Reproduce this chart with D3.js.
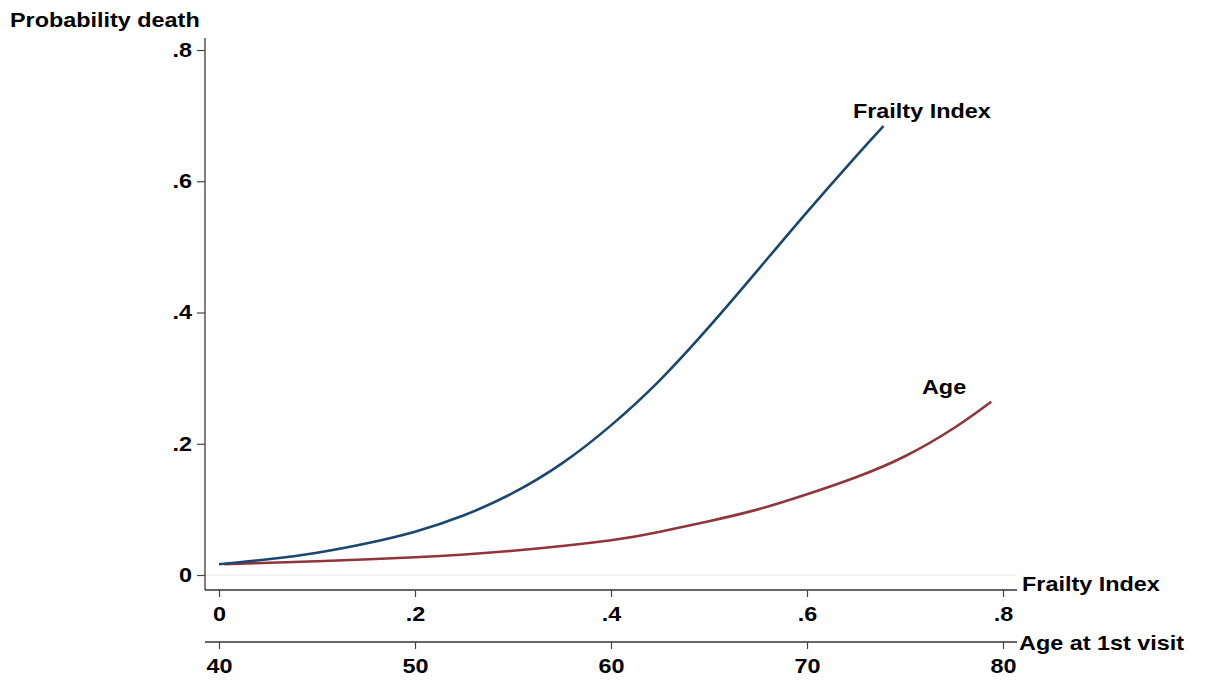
<!DOCTYPE html>
<html>
<head>
<meta charset="utf-8">
<script src="https://cdn.jsdelivr.net/npm/d3@7"></script>
<style>
  html, body { margin: 0; padding: 0; background: #fff; }
  svg { display: block; font-family: "Liberation Sans", Arial, Helvetica, sans-serif; font-weight: bold; }
</style>
</head>
<body>
<svg id="chart" width="1205" height="683"></svg>
<script>
// Predicted probability of death by frailty index
const frailtyX = [0, 0.05, 0.10, 0.15, 0.20, 0.25, 0.30, 0.35, 0.40, 0.45, 0.50, 0.55, 0.60, 0.65, 0.678];
const frailtyP = [0.0165, 0.024, 0.034, 0.048, 0.066, 0.091, 0.125, 0.170, 0.228, 0.297, 0.378, 0.465, 0.553, 0.638, 0.684];

// Predicted probability of death by age at first visit
const ageX = [40.25, 45, 50, 55, 60, 62.5, 65, 67.5, 70, 72.5, 75, 77.5, 79.4];
const ageP = [0.0165, 0.021, 0.027, 0.037, 0.053, 0.066, 0.082, 0.100, 0.123, 0.149, 0.181, 0.224, 0.264];

const yTicks = [0, 0.2, 0.4, 0.6, 0.8];
const yTickLabels = ["0", ".2", ".4", ".6", ".8"];
const fiTicks = [0, 0.2, 0.4, 0.6, 0.8];
const fiTickLabels = ["0", ".2", ".4", ".6", ".8"];
const ageTicks = [40, 50, 60, 70, 80];
const ageTickLabels = ["40", "50", "60", "70", "80"];

const svg = d3.select("#chart");
const STRETCH = 1.17;   // glyphs are drawn slightly wider than the base face
const FONT = "'Liberation Sans', Arial, sans-serif";

const xFI = d3.scaleLinear().domain([0, 0.8]).range([219, 1003]);
const xAge = d3.scaleLinear().domain([40, 80]).range([219, 1003]);
const y = d3.scaleLinear().domain([0, 0.8]).range([575, 50]);

const plotLeft = 205, plotRight = 1017, plotTop = 38, plotBottom = 590;

// widen a text element horizontally around its anchor x
function widen(sel, ax) {
  sel.attr("transform", `translate(${ax},0) scale(${STRETCH},1) translate(${-ax},0)`);
}

// Light grid line at zero
svg.append("line")
  .attr("x1", plotLeft).attr("x2", plotRight)
  .attr("y1", y(0)).attr("y2", y(0))
  .attr("stroke", "#eaf2f3").attr("stroke-width", 1.5);

// Y axis
const yAxis = d3.axisLeft(y).tickValues(yTicks)
  .tickFormat((d, i) => yTickLabels[i]).tickSize(8).tickPadding(5);
const gy = svg.append("g").attr("transform", `translate(${plotLeft},0)`).call(yAxis);
gy.select(".domain").attr("d", `M0,${plotTop}V${plotBottom}`).attr("stroke", "#555").attr("stroke-width", 1.5);
gy.selectAll(".tick line").attr("stroke", "#444").attr("stroke-width", 1.2);
gy.selectAll(".tick text").attr("fill", "#000")
  .style("font-size", "20px").style("font-weight", "bold").style("font-family", FONT)
  .each(function () { widen(d3.select(this), -13); });

// Frailty index axis
const fiAxis = d3.axisBottom(xFI).tickValues(fiTicks)
  .tickFormat((d, i) => fiTickLabels[i]).tickSize(7).tickPadding(10);
const gx1 = svg.append("g").attr("transform", `translate(0,${plotBottom})`).call(fiAxis);
gx1.select(".domain").attr("d", `M${plotLeft},0H${plotRight}`).attr("stroke", "#333").attr("stroke-width", 1.5);

// Age axis
const ageAxis = d3.axisBottom(xAge).tickValues(ageTicks)
  .tickFormat((d, i) => ageTickLabels[i]).tickSize(7).tickPadding(10);
const gx2 = svg.append("g").attr("transform", `translate(0,642)`).call(ageAxis);
gx2.select(".domain").attr("d", `M${plotLeft},0H${plotRight}`).attr("stroke", "#333").attr("stroke-width", 1.5);

[gx1, gx2].forEach(g => {
  g.selectAll(".tick line").attr("stroke", "#444").attr("stroke-width", 1.2);
  g.selectAll(".tick text").attr("fill", "#000")
    .style("font-size", "20px").style("font-weight", "bold").style("font-family", FONT)
    .each(function () { widen(d3.select(this), 0); });
});

// plain bold label, widened around its left edge
function label(x, yy, txt) {
  const t = svg.append("text").attr("x", x).attr("y", yy)
    .style("font-size", "20px").style("font-family", FONT).text(txt);
  widen(t, x);
  return t;
}

// Axis titles
label(10, 27, "Probability death");
label(1022, 591, "Frailty Index");
label(1019, 650, "Age at 1st visit");

// Curves (smooth spline through the fitted values)
const fiLine = d3.line().x(d => xFI(d[0])).y(d => y(d[1])).curve(d3.curveNatural);
const ageLine = d3.line().x(d => xAge(d[0])).y(d => y(d[1])).curve(d3.curveNatural);

svg.append("path")
  .datum(ageX.map((a, i) => [a, ageP[i]]))
  .attr("d", ageLine).attr("fill", "none")
  .attr("stroke", "#90353b").attr("stroke-width", 2.6);

svg.append("path")
  .datum(frailtyX.map((f, i) => [f, frailtyP[i]]))
  .attr("d", fiLine).attr("fill", "none")
  .attr("stroke", "#1a476f").attr("stroke-width", 2.6);

// Curve labels
label(853, 118, "Frailty Index");
label(922, 394, "Age");
</script>
</body>
</html>
